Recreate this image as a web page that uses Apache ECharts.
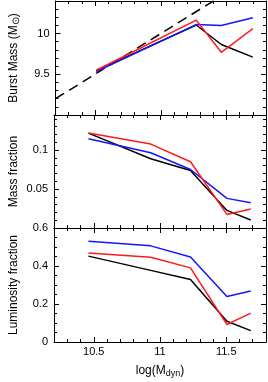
<!DOCTYPE html>
<html>
<head>
<meta charset="utf-8">
<script src="https://cdn.jsdelivr.net/npm/echarts@6/dist/echarts.min.js"></script>
<style>
html,body{margin:0;padding:0;background:#fff;}
#chart{width:268px;height:382px;}
</style>
</head>
<body>
<div id="chart"></div>
<script>
// ---- data ----
const xBurst = [10.51, 11.27, 11.46, 11.70];
const burstBlack = [9.545, 10.105, 9.866, 9.711];
const burstBlue  = [9.533, 10.11, 10.098, 10.195];
const burstRed   = [9.55, 10.165, 9.77, 10.06];
const dashX = [10.2, 11.8];
const dashY = [9.2, 10.8];

const xFrac = [10.46, 10.93, 11.23, 11.505, 11.685];
const massBlack = [0.1218, 0.0888, 0.0738, 0.0226, 0.0103];
const massBlue  = [0.1145, 0.0965, 0.0751, 0.0380, 0.0324];
const massRed   = [0.1220, 0.1077, 0.0850, 0.0174, 0.0244];

const lumBlack = [0.452, 0.377, 0.329, 0.109, 0.060];
const lumBlue  = [0.530, 0.506, 0.447, 0.240, 0.268];
const lumRed   = [0.468, 0.446, 0.390, 0.092, 0.152];

const xTickLabels = [10.5, 11, 11.5];
const yLabels = [[9.5, 10], [0.05, 0.1], [0, 0.2, 0.4, 0.6]];
const yMajor = [[9, 9.5, 10], [0, 0.05, 0.1], [0, 0.2, 0.4, 0.6]];
const yRange = [[9.0, 10.4], [0, 0.145], [0, 0.6]];
const yMinorInterval = [0.1, 0.01, 0.05];
const yNames = ['{a|Burst Mass (M}{s|\u2299}{a|)}', '{a|Mass fraction}', '{a|Luminosity fraction}'];
// ---- layout ----
const grids = [
  {left: 48, right: 2, top: 1, height: 114},
  {left: 48, right: 2, top: 115, height: 113},
  {left: 48, right: 2, top: 228, height: 114}
];
const FONT = 'Liberation Sans, Arial, sans-serif';
const BLUE = '#1414ff', RED = '#ff1a1a', BLACK = '#000';

const xAxes = [], yAxes = [], series = [];
const pair = (xs, ys) => xs.map((x, i) => [x, ys[i]]);

for (let g = 0; g < 3; g++) {
  ['bottom', 'top'].forEach((pos) => {
    // minor
    xAxes.push({
      type: 'value', gridIndex: g, position: pos, min: 10.2, max: 11.8, interval: 0.1,
      axisLine: {show: true, onZero: false, lineStyle: {color: '#000', width: 1}},
      axisTick: {show: true, inside: true, length: 3, lineStyle: {color: '#000'}},
      axisLabel: {show: false}, splitLine: {show: false},
      name: (g === 2 && pos === 'bottom') ? '{a|log(M}{s|dyn}{a|)}' : '',
      nameLocation: 'middle', nameGap: 21,
      nameTextStyle: {
        rich: {
          a: {fontFamily: FONT, fontSize: 12, color: '#000'},
          s: {fontFamily: FONT, fontSize: 9, color: '#000', verticalAlign: 'bottom', padding: [6, 0, 0, 0]}
        }
      }
    });
    // major
    xAxes.push({
      type: 'value', gridIndex: g, position: pos, min: 10.2, max: 11.8,
      axisLine: {show: false, onZero: false},
      axisTick: {show: true, inside: true, length: 5, customValues: xTickLabels, lineStyle: {color: '#000'}},
      axisLabel: {show: (g === 2 && pos === 'bottom'), customValues: xTickLabels, margin: 4,
        fontFamily: FONT, fontSize: 11, color: '#000'},
      splitLine: {show: false}
    });
  });
  ['left', 'right'].forEach((pos) => {
    yAxes.push({
      type: 'value', gridIndex: g, position: pos, min: yRange[g][0], max: yRange[g][1],
      interval: yMinorInterval[g],
      axisLine: {show: true, onZero: false, lineStyle: {color: '#000', width: 1}},
      axisTick: {show: true, inside: true, length: 3, lineStyle: {color: '#000'}},
      axisLabel: {show: false}, splitLine: {show: false},
      name: pos === 'left' ? yNames[g] : '',
      nameLocation: 'middle', nameGap: 34,
      nameTextStyle: {
        rich: {
          a: {fontFamily: FONT, fontSize: 12, color: '#000'},
          s: {fontFamily: FONT, fontSize: 10, color: '#000', verticalAlign: 'bottom', padding: [5, 0, 0, 0]}
        }
      }
    });
    yAxes.push({
      type: 'value', gridIndex: g, position: pos, min: yRange[g][0], max: yRange[g][1],
      axisLine: {show: false, onZero: false},
      axisTick: {show: true, inside: true, length: 5, customValues: yMajor[g], lineStyle: {color: '#000'}},
      axisLabel: {show: pos === 'left', customValues: yLabels[g], margin: 6,
        fontFamily: FONT, fontSize: 11, color: '#000'},
      splitLine: {show: false}
    });
  });
}

function line(g, data, color, extra) {
  return Object.assign({
    type: 'line', xAxisIndex: g * 4, yAxisIndex: g * 4, data: data,
    showSymbol: false, symbol: 'none', animation: false, clip: true,
    lineStyle: {color: color, width: 1.5}, itemStyle: {color: color}
  }, extra || {});
}

series.push(line(0, pair(dashX, dashY), BLACK, {lineStyle: {color: BLACK, width: 1.5, type: [10, 6]}}));
series.push(line(0, pair(xBurst, burstBlack), BLACK));
series.push(line(0, pair(xBurst, burstBlue), BLUE));
series.push(line(0, pair(xBurst, burstRed), RED));
series.push(line(1, pair(xFrac, massBlack), BLACK));
series.push(line(1, pair(xFrac, massBlue), BLUE));
series.push(line(1, pair(xFrac, massRed), RED));
series.push(line(2, pair(xFrac, lumBlack), BLACK));
series.push(line(2, pair(xFrac, lumBlue), BLUE));
series.push(line(2, pair(xFrac, lumRed), RED));

const chart = echarts.init(document.getElementById('chart'), null, {renderer: 'canvas'});
chart.setOption({
  animation: false,
  backgroundColor: '#fff',
  grid: grids,
  xAxis: xAxes,
  yAxis: yAxes,
  series: series
});
</script>
</body>
</html>
